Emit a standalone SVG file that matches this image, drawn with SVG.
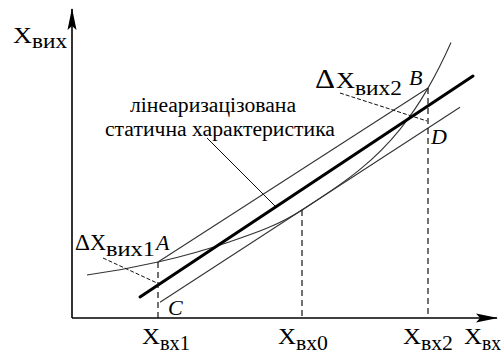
<svg xmlns="http://www.w3.org/2000/svg" width="504" height="358" viewBox="0 0 504 358">
  <defs>
    <marker id="arr" markerUnits="userSpaceOnUse" viewBox="0 0 22 10" refX="21" refY="5" markerWidth="22" markerHeight="10" orient="auto">
      <path d="M0,0.5 L22,5 L0,9.5 L4,5 z" fill="#000"/>
    </marker>
  </defs>
  <style>
    .axis { stroke: #000; stroke-width: 1.6; fill: none; }
    .thin { stroke: #333; stroke-width: 1.1; fill: none; }
    .thick { stroke: #000; stroke-width: 3; fill: none; stroke-linecap: round; }
    .dash { stroke: #111; stroke-width: 1.2; fill: none; stroke-dasharray: 6,4; }
    .ptr { stroke: #111; stroke-width: 1; fill: none; stroke-dasharray: 4,2; }
    .lead { stroke: #111; stroke-width: 1; fill: none; }
    text { font-family: "Liberation Serif", "Times New Roman", serif; fill: #000; }
    .big { font-size: 24px; }
    .sub { font-size: 20px; }
    .pt { font-size: 22px; font-style: italic; }
    .cap { font-size: 20px; }
  </style>
  <rect width="504" height="358" fill="#fff"/>

  <g id="axes">
    <path class="axis" d="M72,318 L72,9" marker-end="url(#arr)"/>
    <path class="axis" d="M72,318 L497,318" marker-end="url(#arr)"/>
  </g>

  <g id="connectors">
    <path class="thin" d="M87,275 C110.7,271.7 134.3,267.4 158,262 C182,256.5 206,249.9 230,241.7 C254,233.5 278,225.6 302,210 C321.3,197.4 340.7,185.3 360,169.4 C373.3,158.5 386.7,145.8 400,129.3 C409.3,117.7 418.7,104.2 428,88.1 C435.7,74.8 443.3,59.8 451,42.5"/>
    <path class="thin" d="M158,262 L428,88"/>
    <path class="thin" d="M160,302.3 L460,107.3"/>
    <path class="thick" d="M140,297 L473,76"/>
    <path class="dash" d="M158,262 L158,318"/>
    <path class="dash" d="M302,210 L302,318"/>
    <path class="dash" d="M428,88 L428,318"/>
    <path class="ptr" d="M103,258 L157,283"/>
    <path class="ptr" d="M340,93 L427,121"/>
    <path class="lead" d="M207,138 L275,206"/>
  </g>

  <g id="labels">
    <g id="y-label">
      <text class="big" x="13" y="43" textLength="19" lengthAdjust="spacingAndGlyphs">X</text>
      <text class="sub" x="32" y="48" textLength="35" lengthAdjust="spacingAndGlyphs">вих</text>
    </g>
    <g id="x1-label">
      <text class="big" x="142" y="344" textLength="18" lengthAdjust="spacingAndGlyphs">X</text>
      <text class="sub" x="160" y="350" textLength="30" lengthAdjust="spacingAndGlyphs">вх1</text>
    </g>
    <g id="x0-label">
      <text class="big" x="278" y="344" textLength="18" lengthAdjust="spacingAndGlyphs">X</text>
      <text class="sub" x="296" y="350" textLength="32" lengthAdjust="spacingAndGlyphs">вх0</text>
    </g>
    <g id="x2-label">
      <text class="big" x="403" y="344" textLength="18" lengthAdjust="spacingAndGlyphs">X</text>
      <text class="sub" x="421" y="350" textLength="32" lengthAdjust="spacingAndGlyphs">вх2</text>
    </g>
    <g id="x-label">
      <text class="big" x="464" y="344" textLength="18" lengthAdjust="spacingAndGlyphs">X</text>
      <text class="sub" x="482" y="350" textLength="19" lengthAdjust="spacingAndGlyphs">вх</text>
    </g>
    <g id="dx1-label">
      <text class="big" x="75" y="250" textLength="15" lengthAdjust="spacingAndGlyphs">Δ</text>
      <text class="big" x="90" y="250" textLength="16" lengthAdjust="spacingAndGlyphs">X</text>
      <text class="sub" x="106" y="256" textLength="49" lengthAdjust="spacingAndGlyphs">вих1</text>
      <text class="pt" x="156" y="250">A</text>
    </g>
    <g id="dx2-label">
      <text class="big" x="315" y="88" textLength="20" lengthAdjust="spacingAndGlyphs" style="font-size:27px">Δ</text>
      <text class="big" x="336" y="88" textLength="19" lengthAdjust="spacingAndGlyphs">X</text>
      <text class="sub" x="355" y="95" textLength="47" lengthAdjust="spacingAndGlyphs">вих2</text>
      <text class="pt" x="409" y="85">B</text>
    </g>
    <text id="pC" class="pt" x="168" y="315">C</text>
    <text id="pD" class="pt" x="431" y="144">D</text>
    <g id="caption">
      <text class="cap" x="130" y="112" textLength="166" lengthAdjust="spacingAndGlyphs">лінеаризацізована</text>
      <text class="cap" x="105" y="136" textLength="230" lengthAdjust="spacingAndGlyphs">статична характеристика</text>
    </g>
  </g>
</svg>
